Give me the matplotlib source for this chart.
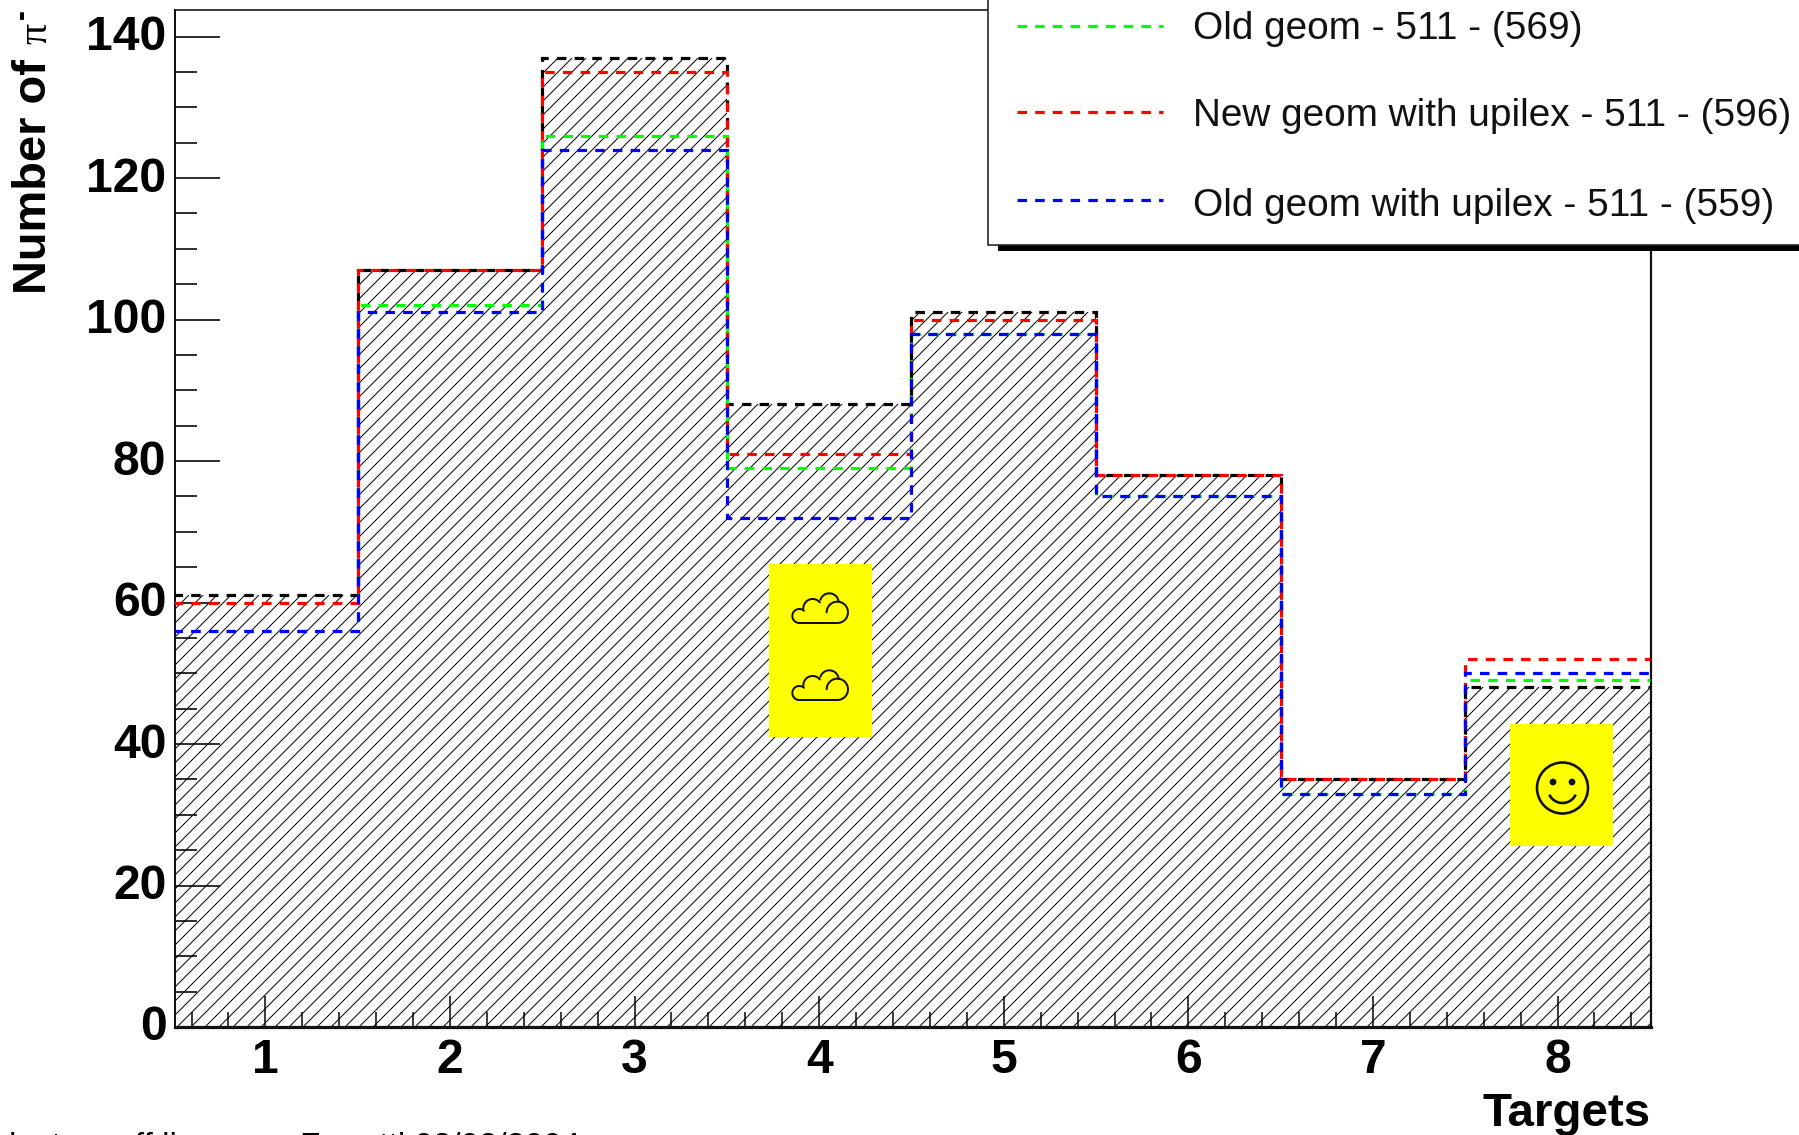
import numpy as np
import matplotlib
matplotlib.use("Agg")
import matplotlib.pyplot as plt
from matplotlib.patches import Rectangle, Circle
from matplotlib.ticker import MultipleLocator
from matplotlib.transforms import ScaledTranslation

plt.rcParams["font.family"] = ["Liberation Sans", "DejaVu Sans"]
plt.rcParams["lines.scale_dashes"] = False
plt.rcParams["hatch.linewidth"] = 0.85

DPI = 84
W, H = 1800, 1135


def px(n):
    return n * 72.0 / DPI


# Data
targets = [1, 2, 3, 4, 5, 6, 7, 8]
edges = [0.5, 1.5, 2.5, 3.5, 4.5, 5.5, 6.5, 7.5, 8.5]
new_geom = [61, 107, 137, 88, 101, 78, 35, 48]
old_geom = [56, 102, 126, 79, 98, 75, 33, 49]
new_geom_upilex = [60, 107, 135, 81, 100, 78, 35, 52]
old_geom_upilex = [56, 101, 124, 72, 98, 75, 33, 50]
y_ticks = [0, 20, 40, 60, 80, 100, 120, 140]
legend_labels = ["Old geom - 511 - (569)",
                 "New geom with upilex - 511 - (596)",
                 "Old geom with upilex - 511 - (559)"]
legend_colors = ["#00ff00", "#ff0000", "#0000ff"]

fig = plt.figure(figsize=(W / DPI, H / DPI), dpi=DPI, facecolor="white")
ax = fig.add_axes([175.5 / W, 1 - 1027 / H, (1651.5 - 175.5) / W, (1027 - 10) / H])
# the frame of the original sits slightly off the data range
ax.set_xlim(0.513, 8.509)
ax.set_ylim(0, 143.75)

dash = (0, (px(9.5), px(8.2)))
lw = px(3.2)

ax.stairs(new_geom, edges, fill=True, hatch="//", facecolor="none",
          edgecolor="black", linewidth=0, zorder=1)
for vals, col in [(new_geom, "black"), (old_geom, "#00ff00"),
                  (new_geom_upilex, "#ff0000"), (old_geom_upilex, "#0000ff")]:
    ax.stairs(vals, edges, baseline=None, fill=False, edgecolor=col,
              linewidth=lw, linestyle=dash, zorder=3)

for side, w in [("left", 2), ("right", 2.2), ("top", 1.6), ("bottom", 3.2)]:
    ax.spines[side].set_linewidth(px(w))
    ax.spines[side].set_color("#111111")

ax.set_xticks(targets)
ax.set_yticks(y_ticks)
ax.xaxis.set_minor_locator(MultipleLocator(0.2))
ax.yaxis.set_minor_locator(MultipleLocator(5))
ax.tick_params(axis="x", which="major", direction="in", length=px(31), width=px(1.5), pad=px(11), labelsize=px(48))
ax.tick_params(axis="x", which="minor", direction="in", length=px(15), width=px(1.5))
ax.tick_params(axis="y", which="major", direction="in", length=px(45), width=px(1.6), pad=px(9), labelsize=px(48))
ax.tick_params(axis="y", which="minor", direction="in", length=px(22), width=px(1.6))
for lab in ax.get_xticklabels() + ax.get_yticklabels():
    lab.set_fontweight("bold")
off = ScaledTranslation(0, px(4) / 72.0, fig.dpi_scale_trans)
for lab in ax.get_yticklabels():
    lab.set_transform(lab.get_transform() + off)

# Overlay in image pixels for annotations
ov = fig.add_axes([0, 0, 1, 1], zorder=10, facecolor="none")
ov.set_xlim(0, W)
ov.set_ylim(H, 0)
ov.axis("off")

# Legend box (runs off the image at the top and right)
ov.add_patch(Rectangle((998.5, 20), 900, 231, facecolor="black", edgecolor="none", zorder=1))
ov.add_patch(Rectangle((988.5, -20), 900, 265, facecolor="white", edgecolor="#222222", linewidth=px(1.6), zorder=2))
for lab, col, y, ty in zip(legend_labels, legend_colors, [25.7, 112, 200], [29, 116.5, 205.5]):
    ov.plot([1017, 1163], [y, y], color=col, linewidth=lw, linestyle=dash,
            dash_capstyle="butt", zorder=3)
    ov.text(1193.5, ty, lab, fontsize=px(38.8), va="center", ha="left", color="#111111", zorder=3)

# Axis titles
ov.text(1651, 1126, "Targets", fontsize=px(47.5), fontweight="bold", ha="right", va="baseline")
ov.text(46, 294, "Number of", fontsize=px(47), fontweight="bold", rotation=90,
        rotation_mode="anchor", ha="left", va="baseline")
ov.text(46, 44, "\u03c0", fontsize=px(42), rotation=90, rotation_mode="anchor",
        ha="left", va="baseline", family=["Liberation Serif", "DejaVu Serif"])
ov.text(22, 14, "-", fontsize=px(30), fontweight="bold", rotation=90,
        ha="center", va="center")

# Footer, cut by the image bottom
ov.text(9, 1156, "last on off line", fontsize=px(33.3), ha="left", va="baseline", clip_on=False)
ov.text(300, 1156, "Ferretti 02/02/2004", fontsize=px(33.3), ha="left", va="baseline", clip_on=False)

# Yellow stickers
ov.add_patch(Rectangle((769, 564), 103, 173, facecolor="#ffff00", edgecolor="none", zorder=4))
ov.add_patch(Rectangle((1510, 724), 103, 122, facecolor="#ffff00", edgecolor="none", zorder=4))


def arc(cx, cy, r, t0, t1):
    t = np.radians(np.linspace(t0, t1, 60))
    return cx + r * np.cos(t), cy + r * np.sin(t)


def cloud(dy):
    # lobes measured on a 3x crop whose origin is image pixel (740, 540)
    parts = [arc(292, 217, 32, 90, -180), arc(268, 188, 28, -162, -5),
             arc(218, 205, 28, -184, -39), arc(178, 228, 21, 90, 311),
             (np.array([178, 292]), np.array([249, 249]))]
    for xs, ys in parts:
        ov.plot(740 + np.asarray(xs) / 3, 540 + np.asarray(ys) / 3 + dy,
                color="#111111", linewidth=px(2), zorder=5, solid_capstyle="round")


cloud(0)
cloud(77)

ov.add_patch(Circle((1562.5, 788), 25.5, facecolor="none", edgecolor="#111111", linewidth=px(2.6), zorder=5))
for ex in (1553, 1572):
    ov.add_patch(Circle((ex, 782), 3.4, facecolor="#111111", edgecolor="none", zorder=5))
sx, sy = arc(1562.5, 788.5, 14.5, 30, 150)
ov.plot(sx, sy, color="#111111", linewidth=px(2.6), zorder=5)

fig.savefig("out.png", dpi=DPI)
